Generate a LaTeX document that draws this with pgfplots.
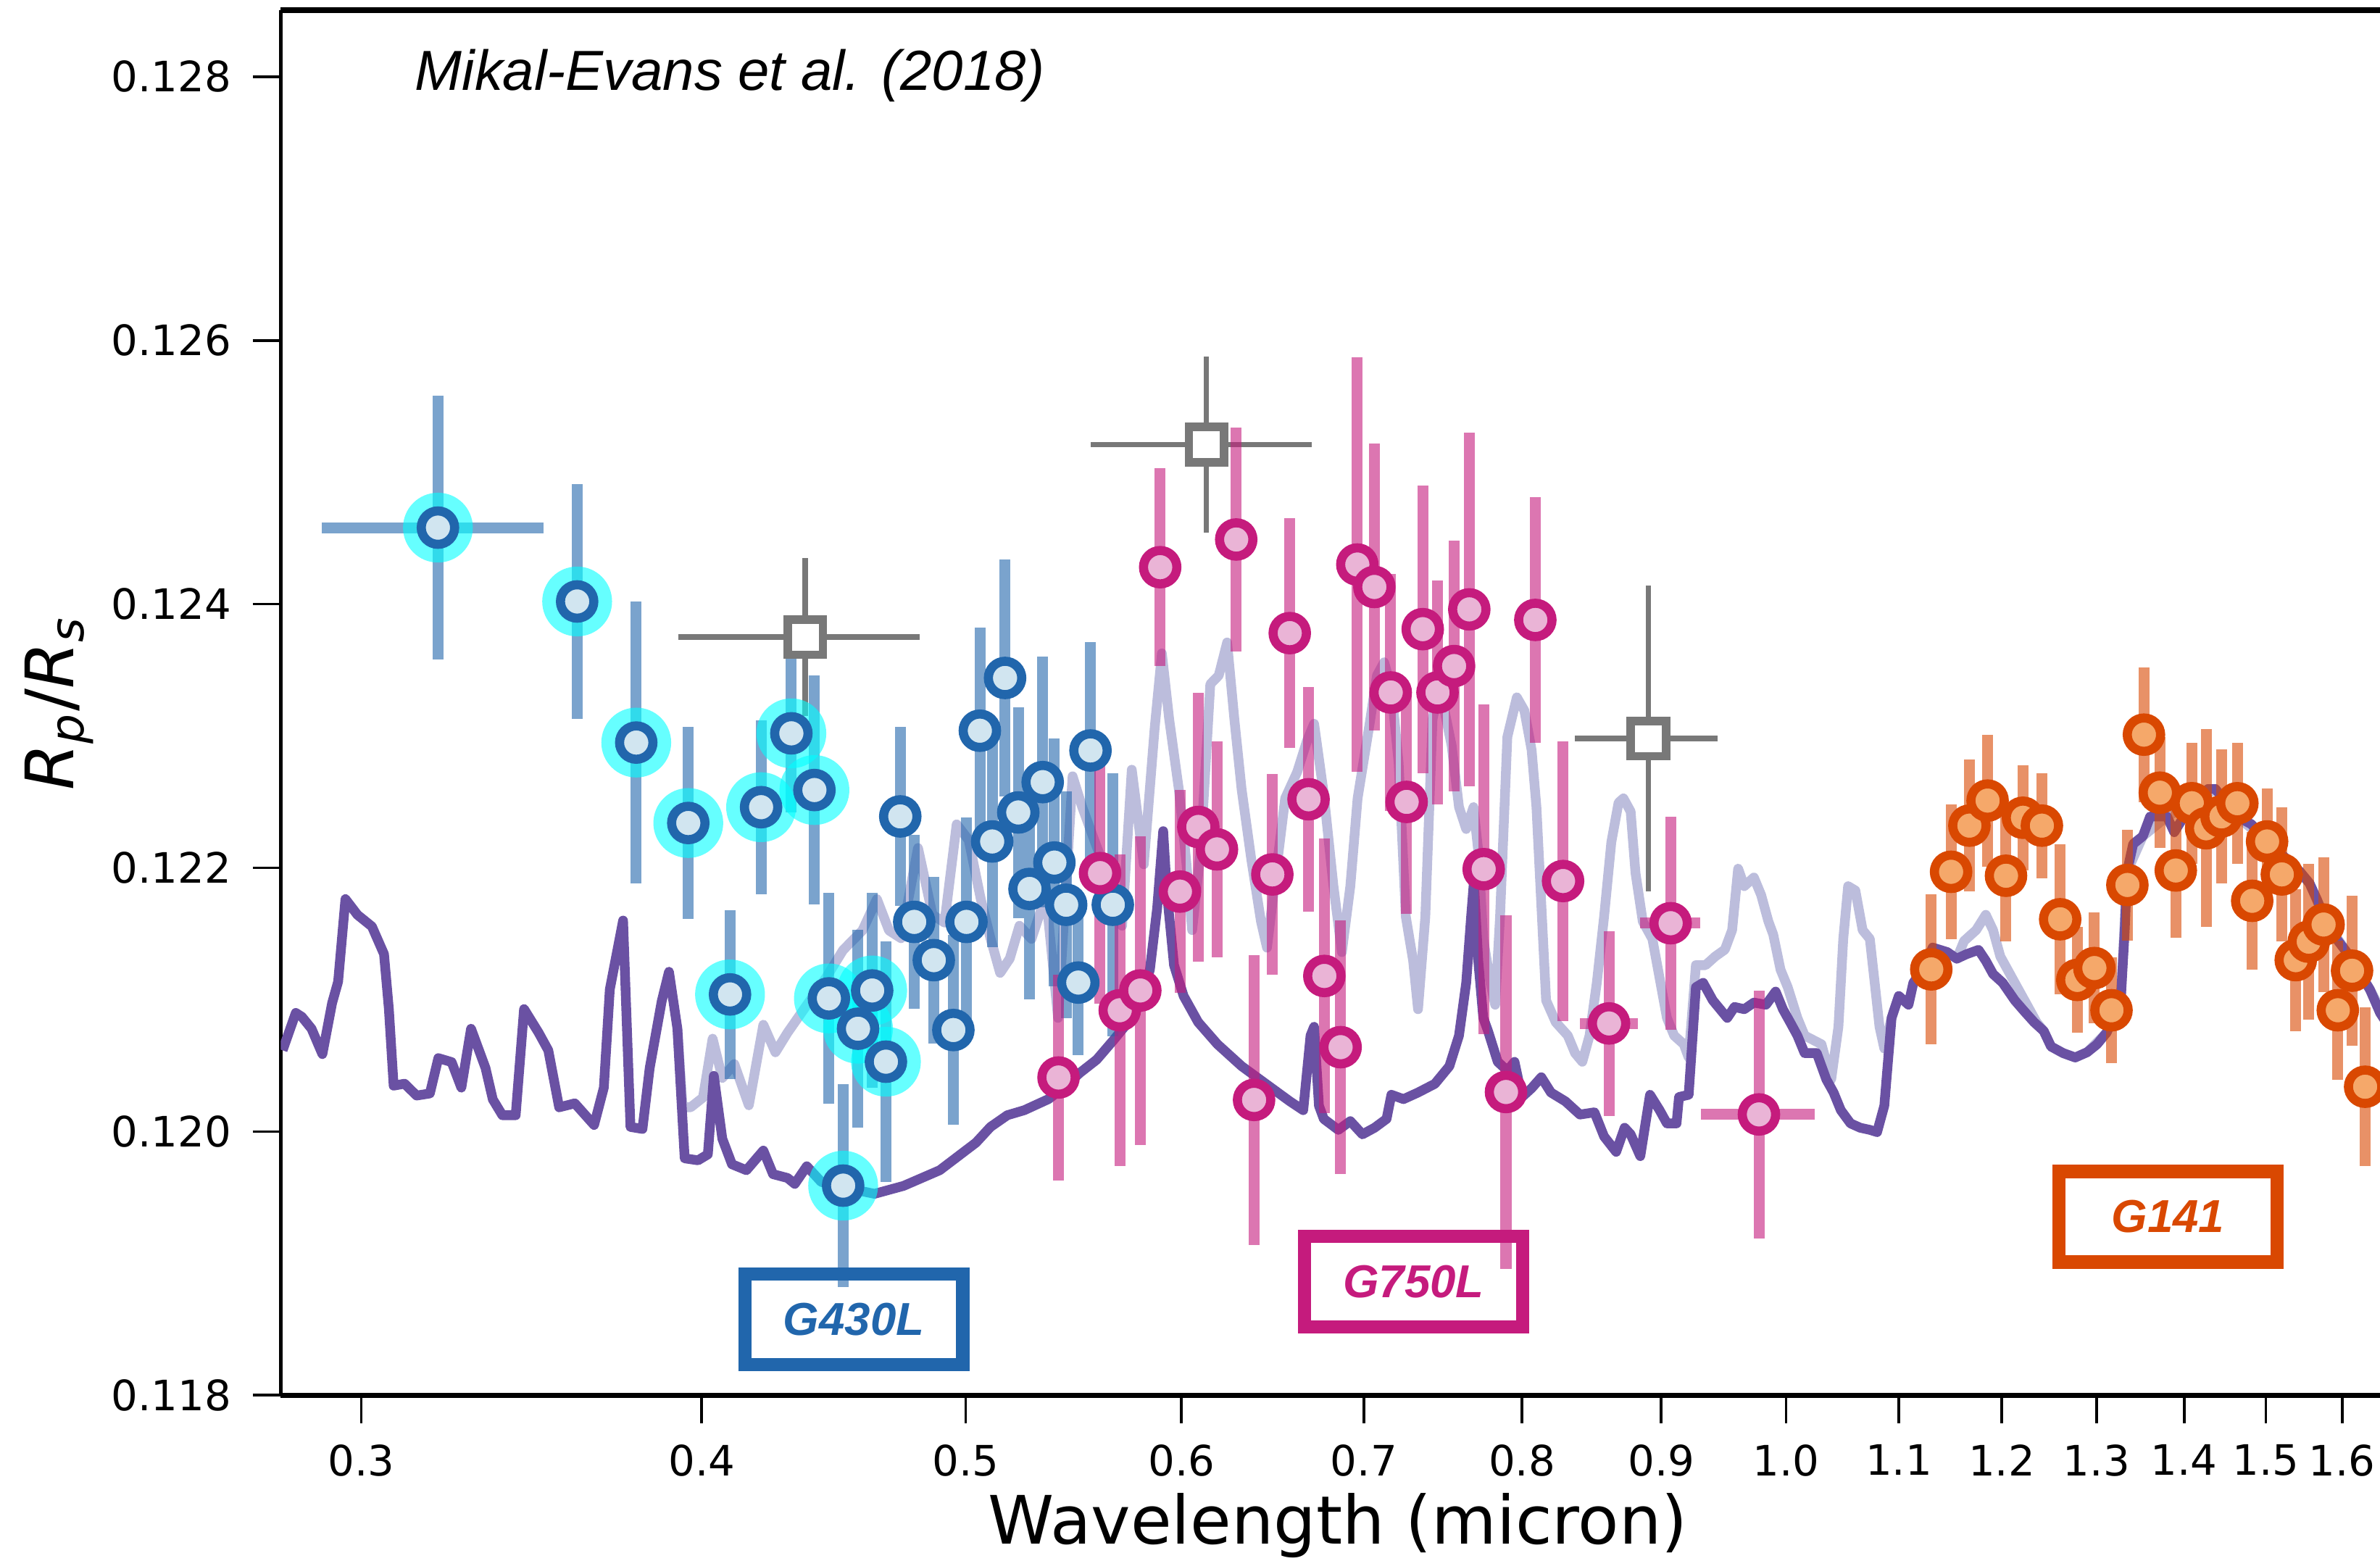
\documentclass[border=0pt]{standalone}
\usepackage{fontspec}
\setmainfont{DejaVu Sans}
\newfontfamily\lib{Liberation Sans}
\usepackage{pgfplots}
\pgfplotsset{compat=1.18}
\definecolor{c430}{HTML}{2166AC}
\definecolor{c430f}{HTML}{D1E5F0}
\definecolor{c750}{HTML}{C51B7D}
\definecolor{c750f}{RGB}{234,180,214}
\definecolor{c141}{HTML}{D94801}
\definecolor{c141f}{RGB}{245,168,106}
\definecolor{mdark}{HTML}{6A51A3}
\definecolor{mlight}{HTML}{BCBDDC}
\definecolor{sqgray}{RGB}{120,120,120}
\definecolor{halo}{RGB}{0,255,255}
\begin{document}
\begin{tikzpicture}
\begin{axis}[
  scale only axis, width=351.3pt, height=228.1pt,
  xmode=log, xmin=0.280283, xmax=1.70, ymin=0.118, ymax=0.128503,
  xtick={0.3,0.4,0.5,0.6,0.7,0.8,0.9,1.0,1.1,1.2,1.3,1.4,1.5,1.6},
  xticklabels={0.3,0.4,0.5,0.6,0.7,0.8,0.9,1.0,1.1,1.2,1.3,1.4,1.5,1.6},
  ytick={0.118,0.120,0.122,0.124,0.126,0.128},
  yticklabels={0.118,0.120,0.122,0.124,0.126,0.128},
  xminorticks=false, yminorticks=false,
  tick align=outside, tick pos=left, major tick length=4.6pt,
  tick style={black, line width=0.45pt},
  separate axis lines,
  x axis line style={line width=0.9pt},
  y axis line style={line width=0.6pt},
  tick label style={font=\fontsize{6.9}{8}\selectfont},
  xlabel={Wavelength (micron)},
  xlabel style={font=\fontsize{11}{13}\selectfont, at={(rel axis cs:0.4956,-0.10731)}, anchor=base},
  ylabel={{\itshape R\textsubscript{p}}/{\itshape R\textsubscript{s}}},
  ylabel style={font=\fontsize{11}{13}\selectfont, at={(rel axis cs:-0.1039,0.5)}, anchor=center},
]
\coordinate (bbSW) at (rel axis cs:-0.13164,-0.11937);
\coordinate (bbNE) at (rel axis cs:0.98413,1.00745);

% model spectra
\addplot[mlight, line width=1.6pt, line join=round] coordinates {
(0.391948,0.120780) (0.393631,0.120184) (0.396365,0.120184) (0.400441,0.120258) (0.403715,0.120705)
(0.407042,0.120407) (0.411201,0.120512) (0.416269,0.120199) (0.4214,0.120810) (0.425732,0.120601)
(0.430108,0.120750) (0.437172,0.120959) (0.44438,0.121168) (0.450767,0.121376) (0.458199,0.121525)
(0.463845,0.121763) (0.468614,0.121525) (0.473403,0.121466) (0.480235,0.122151) (0.486154,0.121644)
(0.491123,0.121585) (0.496171,0.122330) (0.501272,0.122210) (0.506393,0.121763) (0.510567,0.121466)
(0.514742,0.121203) (0.518952,0.121312) (0.523229,0.121561) (0.528576,0.121461) (0.535091,0.121794)
(0.540591,0.120862) (0.547253,0.122694) (0.551729,0.122461) (0.558528,0.122161) (0.56427,0.121927)
(0.57063,0.121561) (0.575333,0.122744) (0.581212,0.122027) (0.586575,0.123060) (0.590178,0.123626)
(0.593804,0.123126) (0.598697,0.122594) (0.602375,0.122061) (0.605445,0.121528) (0.609799,0.122127)
(0.614787,0.123393) (0.619208,0.123459) (0.623623,0.123709) (0.627455,0.123126) (0.631309,0.122594)
(0.636511,0.122061) (0.641716,0.121594) (0.644989,0.121395) (0.649625,0.121927) (0.654939,0.122527)
(0.661672,0.122727) (0.667083,0.122960) (0.671181,0.123093) (0.676712,0.122561) (0.682247,0.121861)
(0.687153,0.121361) (0.692052,0.121861) (0.696304,0.122527) (0.703462,0.123093) (0.707784,0.123459)
(0.712132,0.123559) (0.716506,0.123360) (0.720908,0.122794) (0.725336,0.121628) (0.729793,0.121295)
(0.732793,0.120928) (0.737295,0.121628) (0.741824,0.123126) (0.744829,0.123293) (0.749405,0.123193)
(0.754008,0.122927) (0.758641,0.122461) (0.763301,0.122294) (0.767991,0.122461) (0.771148,0.122127)
(0.774319,0.121461) (0.779076,0.121128) (0.782231,0.120962) (0.785448,0.121628) (0.790273,0.122993)
(0.796736,0.123293) (0.801631,0.123193) (0.806556,0.122893) (0.809873,0.122461) (0.816496,0.120995)
(0.823223,0.120829) (0.831636,0.120728) (0.836744,0.120595) (0.841885,0.120529) (0.847057,0.120728)
(0.852261,0.121128) (0.857496,0.121628) (0.862764,0.122194) (0.868065,0.122494) (0.871634,0.122527)
(0.876986,0.122427) (0.880592,0.121961) (0.886002,0.121594) (0.893249,0.121461) (0.898735,0.121162)
(0.90426,0.120862) (0.909814,0.120728) (0.917256,0.120662) (0.921027,0.120562) (0.926685,0.121262)
(0.934264,0.121262) (0.941964,0.121328) (0.949665,0.121380) (0.955502,0.121528) (0.960372,0.121994)
(0.965321,0.121861) (0.97322,0.121927) (0.979198,0.121794) (0.985213,0.121594) (0.989263,0.121495)
(0.995341,0.121228) (1.001456,0.121095) (1.00964,0.120862) (1.01586,0.120728) (1.030429,0.120662)
(1.03892,0.120395) (1.045302,0.120795) (1.049577,0.121461) (1.053892,0.121861) (1.060367,0.121828)
(1.066881,0.121528) (1.07342,0.121461) (1.077853,0.121128) (1.082217,0.120795) (1.086644,0.120629)
(1.093319,0.120862) (1.100028,0.121028) (1.109033,0.120962) (1.113593,0.121128) (1.122702,0.121228)
(1.131953,0.121395) (1.145904,0.121361) (1.155276,0.121311) (1.162373,0.121445) (1.174324,0.121528)
(1.183926,0.121644) (1.191198,0.121528) (1.198517,0.121328) (1.205879,0.121228) (1.215744,0.121095)
(1.225759,0.120962) (1.235786,0.120829) (1.243378,0.120762) (1.251017,0.120645) (1.263877,0.120595)
(1.276793,0.120562) (1.289864,0.120602) (1.31119,0.120750) (1.327349,0.121048) (1.334115,0.121972)
(1.351964,0.122240) (1.379819,0.122389) (1.414032,0.122508) (1.437343,0.122598) (1.463996,0.122389)
(1.494161,0.122240) (1.528124,0.122061) (1.556463,0.121883) (1.578832,0.121585) (1.608109,0.121346)
(1.637927,0.121078) (1.67,0.12075)
};
\addplot[mdark, line width=1.6pt, line join=round] coordinates {
(0.280717,0.120616) (0.283881,0.120900) (0.285345,0.120870) (0.287678,0.120780) (0.290333,0.120587)
(0.292708,0.120974) (0.294218,0.121137) (0.296026,0.121763) (0.29905,0.121644) (0.302736,0.121555)
(0.305848,0.121346) (0.307106,0.120929) (0.308349,0.120348) (0.311195,0.120363) (0.314395,0.120273)
(0.317938,0.120289) (0.320224,0.120557) (0.323834,0.120527) (0.326502,0.120333) (0.329172,0.120780)
(0.333229,0.120482) (0.335277,0.120244) (0.338019,0.120124) (0.341849,0.120124) (0.344286,0.120929)
(0.348529,0.120750) (0.351402,0.120616) (0.354645,0.120184) (0.359367,0.120214) (0.365291,0.120050)
(0.36828,0.120333) (0.370179,0.121078) (0.374352,0.121600) (0.376652,0.120035) (0.380523,0.120020)
(0.382862,0.120482) (0.386774,0.120989) (0.38915,0.121212) (0.391948,0.120780) (0.394356,0.119797)
(0.398801,0.119782) (0.402087,0.119827) (0.404135,0.120422) (0.407042,0.119946) (0.410371,0.119752)
(0.415429,0.119707) (0.4214,0.119856) (0.424872,0.119677) (0.430108,0.119648) (0.432751,0.119603)
(0.437172,0.119737) (0.44256,0.119618) (0.451706,0.119573) (0.462909,0.119528) (0.474389,0.119588)
(0.489142,0.119707) (0.504351,0.119916) (0.510567,0.120035) (0.517905,0.120124) (0.525349,0.120162)
(0.536206,0.120246) (0.542814,0.120329) (0.550615,0.120445) (0.558528,0.120545) (0.566591,0.120695)
(0.573573,0.120829) (0.579434,0.120962) (0.584209,0.121228) (0.587798,0.121694) (0.590793,0.122278)
(0.592605,0.121828) (0.596246,0.121262) (0.601122,0.121028) (0.608531,0.120829) (0.618564,0.120662)
(0.631309,0.120496) (0.644357,0.120362) (0.657632,0.120229) (0.665043,0.120162) (0.669129,0.120728)
(0.671181,0.120795) (0.673941,0.120196) (0.676712,0.120096) (0.685052,0.120013) (0.692052,0.120079)
(0.699167,0.119979) (0.706355,0.120029) (0.713572,0.120096) (0.716506,0.120279) (0.723872,0.120246)
(0.732793,0.120296) (0.743325,0.120362) (0.752486,0.120496) (0.758641,0.120728) (0.763301,0.121128)
(0.76644,0.121628) (0.76832,0.121894) (0.771148,0.121295) (0.774319,0.120862) (0.777455,0.120762)
(0.783862,0.120529) (0.790273,0.120462) (0.795128,0.120529) (0.800013,0.120262) (0.806556,0.120329)
(0.813202,0.120412) (0.819852,0.120296) (0.829957,0.120229) (0.840185,0.120129) (0.85054,0.120146)
(0.857496,0.119963) (0.866312,0.119846) (0.872542,0.120029) (0.876986,0.119979) (0.88416,0.119813)
(0.891446,0.120279) (0.898735,0.120162) (0.90426,0.120062) (0.911654,0.120062) (0.913555,0.120262)
(0.921027,0.120279) (0.926685,0.121095) (0.932378,0.121128) (0.940005,0.120995) (0.951589,0.120862)
(0.957436,0.120945) (0.965321,0.120928) (0.97322,0.120978) (0.98322,0.120962) (0.99127,0.121062)
(0.99736,0.120928) (1.00348,0.120829) (1.00964,0.120728) (1.01586,0.120595) (1.0263,0.120595)
(1.03469,0.120395) (1.04104,0.120296) (1.04744,0.120162) (1.056024,0.120062) (1.064727,0.120029)
(1.07342,0.120013) (1.080012,0.119996) (1.086644,0.120196) (1.093319,0.120862) (1.100028,0.121028)
(1.109033,0.120962) (1.113593,0.121128) (1.122702,0.121228) (1.131953,0.121395) (1.145904,0.121361)
(1.155276,0.121311) (1.164724,0.121345) (1.176696,0.121378) (1.183926,0.121295) (1.191198,0.121195)
(1.20094,0.121128) (1.213286,0.120995) (1.223211,0.120911) (1.233291,0.120829) (1.243378,0.120762)
(1.251017,0.120645) (1.263877,0.120595) (1.276793,0.120562) (1.289864,0.120602) (1.300474,0.120661)
(1.31119,0.120750) (1.319246,0.120870) (1.327349,0.121048) (1.331419,0.121525) (1.334115,0.121972)
(1.340909,0.122181) (1.351964,0.122240) (1.360269,0.122389) (1.368626,0.122389) (1.379819,0.122389)
(1.388289,0.122270) (1.399645,0.122389) (1.414032,0.122508) (1.428568,0.122598) (1.437343,0.122598)
(1.4491,0.122508) (1.463996,0.122389) (1.482036,0.122330) (1.494161,0.122240) (1.509521,0.122151)
(1.528124,0.122061) (1.543739,0.121972) (1.556463,0.121883) (1.566023,0.121763) (1.578832,0.121585)
(1.591744,0.121466) (1.608109,0.121346) (1.624641,0.121198) (1.637927,0.121078) (1.652032,0.120900)
(1.67,0.12075)
};

% grey squares
\addplot[only marks, mark=square*, mark size=2.9pt,
  mark options={draw=sqgray, fill=white, line width=1.4pt},
  error bars/.cd, x dir=both, x explicit, y dir=both, y explicit, error mark=none,
  error bar style={line width=0.9pt, draw=sqgray}]
coordinates {
(0.4366,0.12375) +- (0.0444,0.00060)
(0.6128,0.12521) +- (0.0572,0.00067)
(0.8902,0.12298) +- (0.0536,0.00116)
};

% cyan halos
\addplot[only marks, color=halo, mark=*, mark size=5.75pt,
  mark options={draw=halo, draw opacity=0, fill=halo, fill opacity=0.6, line width=0pt}]
coordinates {
(0.3201,0.12458) (0.3601,0.12402) (0.3785,0.12295) (0.3956,0.12234) (0.4097,0.12104)
(0.4206,0.12246) (0.4315,0.12302) (0.4400,0.12259) (0.4454,0.12101) (0.4620,0.12107)
(0.4565,0.12078) (0.4674,0.12053) (0.4508,0.11959)
};

% G430L
\addplot[only marks, mark=*, mark size=2.75pt,
  mark options={draw=c430, fill=c430f, line width=1.5pt},
  error bars/.cd, x dir=both, x explicit, y dir=both, y explicit, error mark=none,
  error bar style={line width=1.8pt, draw=c430, draw opacity=0.6}]
coordinates { (0.3201,0.12458) +- (0.030,0.00100) };
\addplot[only marks, mark=*, mark size=2.75pt,
  mark options={draw=c430, fill=c430f, line width=1.5pt},
  error bars/.cd, y dir=both, y explicit, error mark=none,
  error bar style={line width=1.8pt, draw=c430, draw opacity=0.6}]
coordinates {
(0.3601,0.12402) +- (0,0.00089)
(0.3785,0.12295) +- (0,0.00107)
(0.3956,0.12234) +- (0,0.00073)
(0.4097,0.12104) +- (0,0.00064)
(0.4206,0.12246) +- (0,0.00066)
(0.4315,0.12302) +- (0,0.00060)
(0.4400,0.12259) +- (0,0.00087)
(0.4454,0.12101) +- (0,0.00080)
(0.4620,0.12107) +- (0,0.00074)
(0.4565,0.12078) +- (0,0.00075)
(0.4674,0.12053) +- (0,0.00091)
(0.4508,0.11959) +- (0,0.00077)
(0.4731,0.12239) +- (0,0.00068)
(0.4787,0.12159) +- (0,0.00066)
(0.4867,0.12130) +- (0,0.00063)
(0.4948,0.12077) +- (0,0.00072)
(0.5003,0.12159) +- (0,0.00079)
(0.5060,0.12304) +- (0,0.00078)
(0.5113,0.12220) +- (0,0.00080)
(0.5169,0.12344) +- (0,0.00090)
(0.5227,0.12242) +- (0,0.00080)
(0.5277,0.12184) +- (0,0.00084)
(0.5336,0.12265) +- (0,0.00095)
(0.5389,0.12204) +- (0,0.00094)
(0.5443,0.12172) +- (0,0.00086)
(0.5499,0.12113) +- (0,0.00055)
(0.5556,0.12289) +- (0,0.00082)
(0.5662,0.12172) +- (0,0.00100)
};

% G750L
\addplot[only marks, mark=*, mark size=2.75pt,
  mark options={draw=c750, fill=c750f, line width=1.5pt},
  error bars/.cd, y dir=both, y explicit, error mark=none,
  error bar style={line width=1.8pt, draw=c750, draw opacity=0.6}]
coordinates {
(0.5408,0.12041) +- (0,0.00078)
(0.5601,0.12196) +- (0,0.00099)
(0.5695,0.12092) +- (0,0.00118)
(0.5795,0.12107) +- (0,0.00117)
(0.5893,0.12428) +- (0,0.00075)
(0.5992,0.12182) +- (0,0.00077)
(0.6086,0.12231) +- (0,0.00102)
(0.6183,0.12214) +- (0,0.00082)
(0.6284,0.12449) +- (0,0.00085)
(0.6380,0.12024) +- (0,0.00110)
(0.6479,0.12195) +- (0,0.00076)
(0.6575,0.12378) +- (0,0.00087)
(0.6680,0.12252) +- (0,0.00085)
(0.6770,0.12118) +- (0,0.00104)
(0.6864,0.12064) +- (0,0.00096)
(0.6961,0.12430) +- (0,0.00157)
(0.7063,0.12413) +- (0,0.00109)
(0.7161,0.12333) +- (0,0.00090)
(0.7258,0.12250) +- (0,0.00085)
(0.7357,0.12381) +- (0,0.00109)
(0.7450,0.12333) +- (0,0.00085)
(0.7555,0.12353) +- (0,0.00095)
(0.7653,0.12396) +- (0,0.00134)
(0.7747,0.12199) +- (0,0.00125)
(0.7894,0.12030) +- (0,0.00134)
(0.8091,0.12388) +- (0,0.00093)
(0.8283,0.12190) +- (0,0.00106)
};
\addplot[only marks, mark=*, mark size=2.75pt,
  mark options={draw=c750, fill=c750f, line width=1.5pt},
  error bars/.cd, x dir=both, x explicit, y dir=both, y explicit, error mark=none,
  error bar style={line width=1.8pt, draw=c750, draw opacity=0.6}]
coordinates {
(0.8611,0.12082) +- (0.021,0.00070)
(0.9071,0.12158) +- (0.023,0.00081)
(0.9774,0.12013) +- (0.047,0.00094)
};

% G141
\addplot[only marks, mark=*, mark size=2.75pt,
  mark options={draw=c141, fill=c141f, line width=1.5pt},
  error bars/.cd, y dir=both, y explicit, error mark=none,
  error bar style={line width=1.8pt, draw=c141, draw opacity=0.6}]
coordinates {
(1.1306,0.12123) +- (0,0.00057)
(1.1497,0.12197) +- (0,0.00051)
(1.1676,0.12232) +- (0,0.00050)
(1.1857,0.12251) +- (0,0.00050)
(1.2043,0.12194) +- (0,0.00050)
(1.2217,0.12238) +- (0,0.00040)
(1.2414,0.12232) +- (0,0.00040)
(1.2607,0.12161) +- (0,0.00057)
(1.2791,0.12115) +- (0,0.00040)
(1.2977,0.12124) +- (0,0.00042)
(1.3166,0.12092) +- (0,0.00040)
(1.3344,0.12187) +- (0,0.00042)
(1.3532,0.12301) +- (0,0.00051)
(1.3715,0.12257) +- (0,0.00042)
(1.3901,0.12198) +- (0,0.00051)
(1.4091,0.12249) +- (0,0.00046)
(1.4262,0.12230) +- (0,0.00075)
(1.4449,0.12239) +- (0,0.00051)
(1.4644,0.12249) +- (0,0.00046)
(1.4829,0.12175) +- (0,0.00052)
(1.5017,0.12220) +- (0,0.00040)
(1.5205,0.12195) +- (0,0.00051)
(1.5384,0.12130) +- (0,0.00054)
(1.5554,0.12144) +- (0,0.00059)
(1.5751,0.12157) +- (0,0.00051)
(1.5941,0.12092) +- (0,0.00053)
(1.6135,0.12122) +- (0,0.00057)
(1.6314,0.12034) +- (0,0.00060)
};

% annotations
\node[anchor=base west, font=\lib\itshape\fontsize{9.3}{11}\selectfont] at (axis cs:0.30837,0.127899) {Mikal-Evans et al. (2018)};
\node[draw=c430, line width=2.2pt, minimum width=35.9pt, minimum height=14.9pt, inner sep=0pt, text=c430,
  font=\lib\bfseries\itshape\fontsize{7.6}{9}\selectfont] at (axis cs:0.4549,0.118577) {G430L};
\node[draw=c750, line width=2.2pt, minimum width=35.9pt, minimum height=14.9pt, inner sep=0pt, text=c750,
  font=\lib\bfseries\itshape\fontsize{7.6}{9}\selectfont] at (axis cs:0.730029,0.118863) {G750L};
\node[draw=c141, line width=2.2pt, minimum width=35.9pt, minimum height=14.9pt, inner sep=0pt, text=c141,
  font=\lib\bfseries\itshape\fontsize{7.6}{9}\selectfont] at (axis cs:1.38104,0.119354) {G141};
\end{axis}
\pgfresetboundingbox
\path[use as bounding box] (bbSW) rectangle (bbNE);
\end{tikzpicture}
\end{document}
